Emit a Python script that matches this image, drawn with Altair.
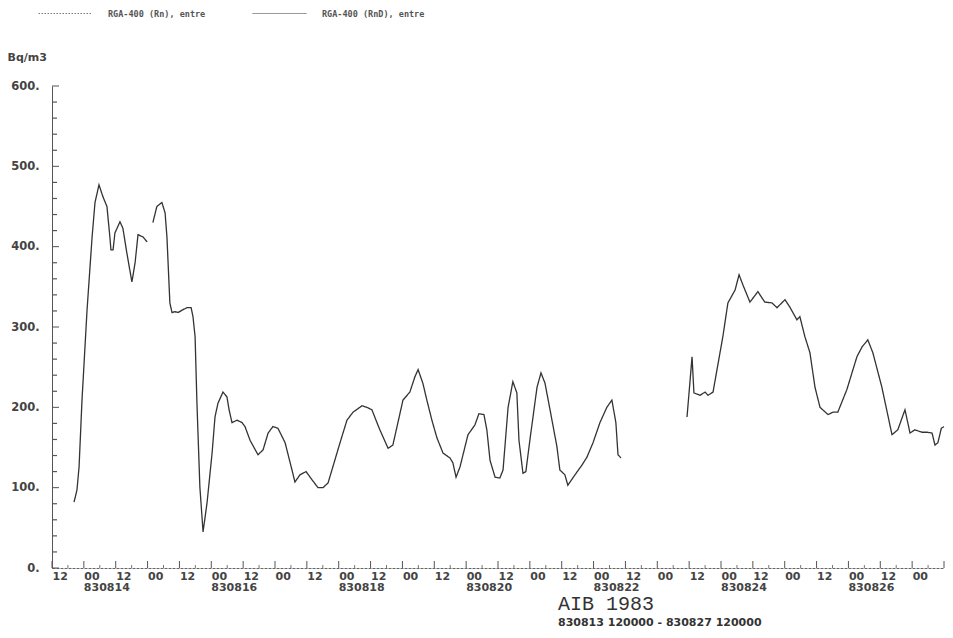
import json
import altair as alt
import pandas as pd

# ---------------- data ----------------
series_names = ["RGA-400 (Rn), entre", "RGA-400 (RnD), entre"]

# hours counted from 830813 12:00
seg_a_hours = [8.3, 9.4, 10.2, 11.3, 13.2, 15.1, 16.2, 17.7, 19.2, 20.7, 21.8, 22.2,
               23.0, 23.7, 25.6, 26.7, 28.2, 30.1, 31.3, 32.4, 34.3, 35.8]
seg_a_values = [82, 97, 126, 209, 321, 412, 455, 477, 462, 450, 412, 396,
                396, 417, 431, 423, 392, 356, 380, 415, 412, 406]

seg_b_hours = [38.0, 39.5, 41.4, 42.6, 43.3, 44.4, 45.2, 46.3, 47.5, 49.0, 50.8, 52.4,
               53.1, 53.9, 54.6, 55.7, 56.9, 58.4, 60.3, 61.4, 62.5, 64.4, 65.9, 66.7,
               67.8, 69.7, 71.6, 72.7, 74.6, 77.6, 79.5, 81.4, 83.2, 85.1, 87.8, 90.4,
               91.5, 93.4, 95.7, 97.9, 100.2, 102.1, 104.0, 105.8, 108.5, 111.1, 113.4,
               116.8, 118.6, 120.5, 122.4, 123.5, 126.6, 128.4, 130.3, 132.2, 134.8,
               136.7, 137.9, 139.7, 141.2, 143.1, 145.0, 147.3, 149.9, 151.0, 152.2,
               153.7, 156.7, 159.3, 160.8, 162.7, 163.8, 165.0, 166.9, 168.7, 169.9,
               171.8, 173.6, 175.1, 175.9, 177.4, 178.5, 180.0, 182.7, 184.2, 185.7,
               187.6, 190.2, 191.3, 193.2, 194.3, 197.0, 199.6, 201.5, 203.8, 206.4,
               209.0, 210.9, 212.4, 213.2, 214.3]
seg_b_values = [430, 450, 455, 442, 412, 330, 318, 319, 318, 321, 324, 324,
                313, 288, 205, 101, 45, 81, 143, 188, 205, 219, 213, 197,
                181, 184, 181, 176, 159, 141, 147, 168, 176, 174, 156, 122,
                107, 116, 120, 110, 100, 100, 106, 126, 156, 184, 194,
                202, 200, 197, 181, 172, 149, 153, 181, 209, 219,
                238, 247, 230, 209, 184, 162, 143, 137, 131, 113,
                126, 166, 178, 192, 191, 172, 134, 113, 112, 122,
                200, 232, 218, 159, 118, 120, 159, 225, 243, 230,
                197, 151, 122, 116, 103, 116, 128, 138, 156, 181,
                200, 209, 181, 141, 137]

seg_c_hours = [239.2, 241.1, 241.8, 244.1, 246.0, 247.1, 249.0, 250.5, 252.7, 254.6,
               257.3, 258.8, 260.3, 262.9, 265.9, 268.5, 271.2, 273.1, 276.1, 277.9,
               280.6, 281.7, 283.6, 285.5, 287.4, 289.3, 292.3, 294.2, 296.0, 299.4,
               303.2, 305.1, 307.3, 309.2, 312.6, 316.4, 318.6, 321.3, 323.2, 325.0,
               327.7, 329.6, 331.5, 332.6, 333.7, 335.0, 336.0]
seg_c_values = [188, 263, 218, 215, 219, 215, 219, 247, 288, 330,
                346, 365, 352, 331, 344, 331, 330, 324, 334, 325,
                309, 313, 288, 268, 225, 200, 191, 194, 194, 222,
                263, 275, 284, 268, 225, 166, 172, 197, 168, 172,
                169, 169, 168, 153, 156, 174, 176]

# axis ticks / labels
x_label_hours = list(range(0, 325, 12))
x_hour_text = ["12", "00"] * 14
x_date_hours = [12, 60, 108, 156, 204, 252, 300]
x_date_text = ["830814", "830816", "830818", "830820", "830822", "830824", "830826"]
x_major_ticks = list(range(0, 337, 12))
x_minor_ticks = list(range(6, 336, 12))
y_label_values = [0, 100, 200, 300, 400, 500, 600]
y_minor_ticks = [v for v in range(0, 601, 20) if v % 100 != 0]

title_text = "AIB 1983"
subtitle_text = "830813 120000 - 830827 120000"

# ---------------- build tables ----------------
rows = []
for seg, (hs, vs) in enumerate([(seg_a_hours, seg_a_values),
                                (seg_b_hours, seg_b_values),
                                (seg_c_hours, seg_c_values)]):
    for h, v in zip(hs, vs):
        rows.append({"hour": h, "value": v, "seg": seg, "series": series_names[1]})
df = pd.DataFrame(rows)
dates_df = pd.DataFrame({"hour": x_date_hours, "text": x_date_text})

x_label_expr = json.dumps(x_hour_text) + "[round(datum.value / 12)]"

MONO = "DejaVu Sans Mono"
SANS = "DejaVu Sans"
INK = "#333333"
LABEL = "#444444"

x_enc = alt.X("hour:Q",
              scale=alt.Scale(domain=[0, 336], nice=False, zero=False),
              axis=alt.Axis(values=x_label_hours, labelExpr=x_label_expr, title=None,
                            ticks=False, grid=False, labelAlign="left",
                            labelBaseline="top", labelPadding=2,
                            labelFont=SANS, labelFontSize=11, labelFontWeight="bold",
                            labelColor=LABEL, labelOverlap=False, labelFlush=False,
                            labelBound=False, domainColor="#666", domainDash=[3, 1],
                            domainWidth=1))
y_enc = alt.Y("value:Q",
              scale=alt.Scale(domain=[0, 600], nice=False),
              axis=alt.Axis(values=y_label_values, labelExpr="datum.value + '.'",
                            title="Bq/m3", titleAngle=0, titleAlign="left",
                            titleBaseline="middle", titleX=-45, titleY=-29,
                            titleFont=SANS, titleFontSize=11, titleFontWeight="bold",
                            titleColor=LABEL, ticks=False, grid=False,
                            labelPadding=13, labelFont=SANS, labelFontSize=11.5,
                            labelFontWeight="bold", labelColor=LABEL,
                            domainColor="#555", domainWidth=1))

line = alt.Chart(df).mark_line(color=INK, strokeWidth=1.3).encode(
    x=x_enc,
    y=y_enc,
    detail="seg:N",
    order="hour:Q",
    strokeDash=alt.StrokeDash(
        "series:N",
        scale=alt.Scale(domain=series_names, range=[[1.5, 1.5], [1, 0]]),
        legend=alt.Legend(title=None, orient="none", legendX=-14, legendY=-100,
                          direction="horizontal", symbolType="stroke",
                          symbolSize=2916, symbolStrokeWidth=1,
                          symbolStrokeColor="#777", labelFont=MONO,
                          labelFontSize=8.5, labelFontWeight="bold",
                          labelColor="#555", labelOffset=15, columnPadding=44)),
)

dates = alt.Chart(dates_df).mark_text(
    align="left", baseline="top", font=SANS, fontSize=11, fontWeight="bold",
    color=LABEL).encode(x=x_enc, y=alt.value(496), text="text:N")

x_major = alt.Chart(pd.DataFrame({"hour": x_major_ticks})).mark_rule(
    color="#555", strokeWidth=1).encode(x=x_enc, y=alt.value(482), y2=alt.value(475))
x_minor = alt.Chart(pd.DataFrame({"hour": x_minor_ticks})).mark_rule(
    color="#777", strokeWidth=1).encode(x=x_enc, y=alt.value(482), y2=alt.value(479))
y_major = alt.Chart(pd.DataFrame({"value": y_label_values})).mark_rule(
    color="#555", strokeWidth=1).encode(y=y_enc, x=alt.value(0), x2=alt.value(7))
y_minor = alt.Chart(pd.DataFrame({"value": y_minor_ticks})).mark_rule(
    color="#555", strokeWidth=1.2).encode(y=y_enc, x=alt.value(1), x2=alt.value(5))

chart = alt.layer(x_minor, x_major, y_minor, y_major, dates, line).properties(
    width=892, height=482,
    background="white",
    padding={"left": 44, "top": 78, "right": 1, "bottom": 60},
    autosize=alt.AutoSizeParams(type="none"),
    title=alt.TitleParams(text=title_text, subtitle=subtitle_text, orient="bottom",
                          anchor="start", frame="group", dx=506, offset=1,
                          font="Liberation Mono", fontSize=20, fontWeight="normal",
                          color="#333", subtitleFont=SANS, subtitleFontSize=11,
                          subtitleFontWeight="bold", subtitleColor="#333",
                          subtitlePadding=3),
).configure_view(strokeWidth=0)

chart.save("out.html", embed_options={"renderer": "svg", "actions": False})
